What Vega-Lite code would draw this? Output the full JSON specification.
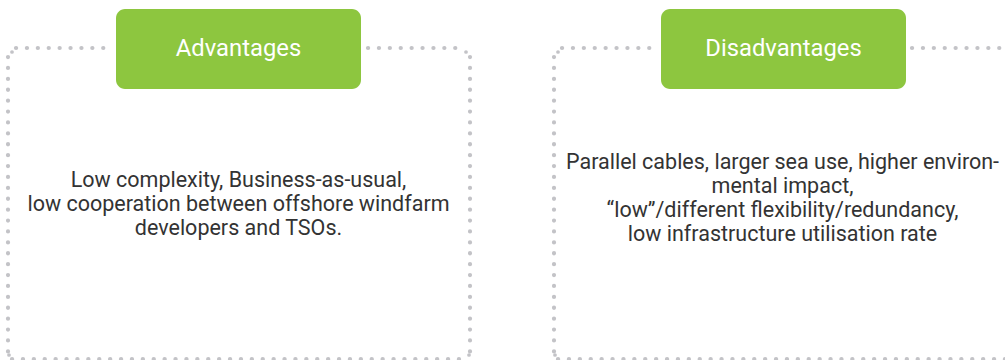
{
  "$schema": "https://vega.github.io/schema/vega-lite/v6.json",
  "width": 1005,
  "height": 360,
  "autosize": {"type": "fit", "contains": "padding"},
  "padding": 0,
  "background": "white",
  "config": {"view": {"stroke": null}},
  "resolve": {"scale": {"x": "shared", "y": "shared"}},
  "layer": [
    {
      "data": {"values": [
        {"x": 16, "x2": 112, "y": 48, "y2": 48},
        {"x": 368, "x2": 464, "y": 48, "y2": 48},
        {"x": 8, "x2": 8, "y": 57, "y2": 352},
        {"x": 470, "x2": 470, "y": 57, "y2": 352},
        {"x": 12, "x2": 466, "y": 359, "y2": 359},
        {"x": 562, "x2": 656, "y": 48, "y2": 48},
        {"x": 912, "x2": 1010, "y": 48, "y2": 48},
        {"x": 554, "x2": 554, "y": 57, "y2": 352},
        {"x": 558, "x2": 1010, "y": 359, "y2": 359}
      ]},
      "mark": {"type": "rule", "color": "#c3c3c7", "strokeWidth": 4.2, "strokeCap": "round", "strokeDash": [0.1, 10.8], "clip": true},
      "encoding": {
        "x": {"field": "x", "type": "quantitative", "scale": {"domain": [0, 1005], "nice": false, "zero": false}, "axis": null},
        "x2": {"field": "x2"},
        "y": {"field": "y", "type": "quantitative", "scale": {"domain": [0, 360], "nice": false, "zero": false, "reverse": true}, "axis": null},
        "y2": {"field": "y2"}
      }
    },
    {
      "data": {"values": [
        {"x": 12, "y": 52}, {"x": 466, "y": 52}, {"x": 558, "y": 52},
        {"x": 9, "y": 355}, {"x": 469, "y": 355}, {"x": 555, "y": 355}
      ]},
      "mark": {"type": "circle", "color": "#c3c3c7", "opacity": 1, "size": 14, "clip": true},
      "encoding": {
        "x": {"field": "x", "type": "quantitative", "scale": {"domain": [0, 1005], "nice": false, "zero": false}, "axis": null},
        "y": {"field": "y", "type": "quantitative", "scale": {"domain": [0, 360], "nice": false, "zero": false, "reverse": true}, "axis": null}
      }
    },
    {
      "data": {"values": [
        {"label": "Advantages", "x": 116, "x2": 361, "y": 9, "y2": 89, "cx": 238.5, "cy": 49},
        {"label": "Disadvantages", "x": 661, "x2": 906, "y": 9, "y2": 89, "cx": 783.5, "cy": 49}
      ]},
      "layer": [
        {
          "mark": {"type": "rect", "color": "#8dc63f", "cornerRadius": 9},
          "encoding": {
            "x": {"field": "x", "type": "quantitative", "scale": {"domain": [0, 1005], "nice": false, "zero": false}, "axis": null},
            "x2": {"field": "x2"},
            "y": {"field": "y", "type": "quantitative", "scale": {"domain": [0, 360], "nice": false, "zero": false, "reverse": true}, "axis": null},
            "y2": {"field": "y2"}
          }
        },
        {
          "mark": {"type": "text", "color": "white", "font": "Roboto", "fontSize": 23.8, "align": "center", "baseline": "middle"},
          "encoding": {
            "x": {"field": "cx", "type": "quantitative", "scale": {"domain": [0, 1005], "nice": false, "zero": false}, "axis": null},
            "y": {"field": "cy", "type": "quantitative", "scale": {"domain": [0, 360], "nice": false, "zero": false, "reverse": true}, "axis": null},
            "text": {"field": "label"}
          }
        }
      ]
    },
    {
      "data": {"values": [
        {"line": "Low complexity, Business-as-usual,", "x": 238.5, "y": 181},
        {"line": "low cooperation between offshore windfarm", "x": 238.5, "y": 205},
        {"line": "developers and TSOs.", "x": 238.5, "y": 229},
        {"line": "Parallel cables, larger sea use, higher environ-", "x": 782.5, "y": 163},
        {"line": "mental impact,", "x": 782.5, "y": 187},
        {"line": "“low”/different flexibility/redundancy,", "x": 782.5, "y": 211},
        {"line": "low infrastructure utilisation rate", "x": 782.5, "y": 235}
      ]},
      "mark": {"type": "text", "color": "#333333", "font": "Roboto", "fontSize": 21.5, "align": "center", "baseline": "middle"},
      "encoding": {
        "x": {"field": "x", "type": "quantitative", "scale": {"domain": [0, 1005], "nice": false, "zero": false}, "axis": null},
        "y": {"field": "y", "type": "quantitative", "scale": {"domain": [0, 360], "nice": false, "zero": false, "reverse": true}, "axis": null},
        "text": {"field": "line"}
      }
    }
  ]
}
